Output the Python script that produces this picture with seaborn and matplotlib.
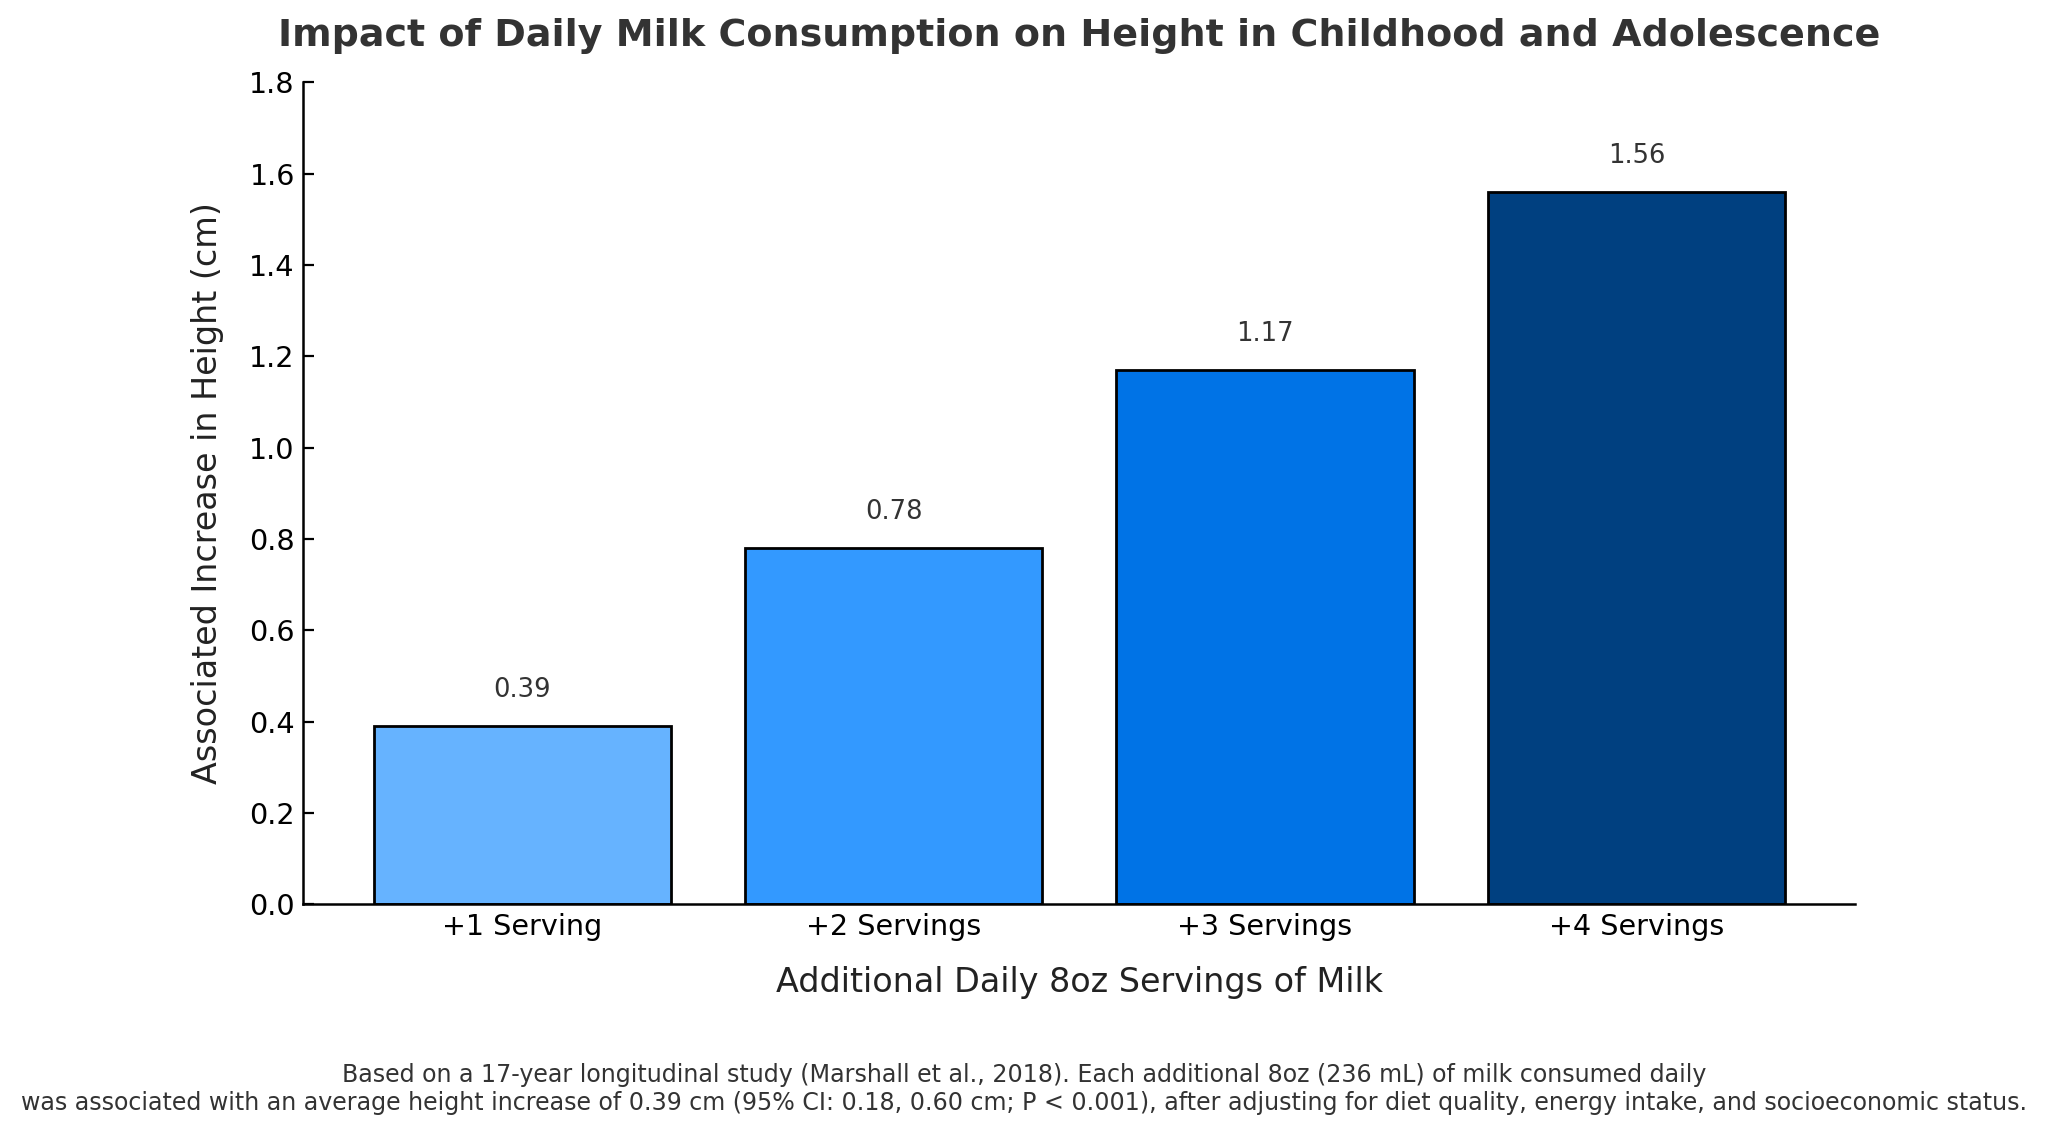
import matplotlib
matplotlib.use("Agg")
import matplotlib.pyplot as plt
import numpy as np
import pandas as pd
import seaborn as sns

# Data
servings = ["+1 Serving", "+2 Servings", "+3 Servings", "+4 Servings"]
height_gain = [0.39, 0.78, 1.17, 1.56]
bar_colors = ["#66b3ff", "#3399ff", "#0073e6", "#004080"]

title = "Impact of Daily Milk Consumption on Height in Childhood and Adolescence"
xtitle = "Additional Daily 8oz Servings of Milk"
ytitle = "Associated Increase in Height (cm)"
note = ("Based on a 17-year longitudinal study (Marshall et al., 2018). Each additional 8oz (236 mL) of milk consumed daily\n"
        "was associated with an average height increase of 0.39 cm (95% CI: 0.18, 0.60 cm; P < 0.001), after adjusting for diet quality, energy intake, and socioeconomic status.")

df = pd.DataFrame({"servings": servings, "gain": height_gain})

sns.set_theme(style="ticks")
plt.rcParams['font.family'] = ['DejaVu Sans']

fig, ax = plt.subplots(figsize=(10.24, 5.645), dpi=200)
fig.subplots_adjust(left=0.148, right=0.906, top=0.927, bottom=0.199)

sns.barplot(data=df, x="servings", y="gain", hue="servings", palette=bar_colors,
            legend=False, width=0.8, edgecolor="black", linewidth=1.0,
            saturation=1, ax=ax)
ax.set_xlim(-0.59, 3.59)

for i, v in enumerate(height_gain):
    ax.text(i, v + 0.05, f"{v:.2f}", ha="center", va="bottom", fontsize=9.3, color="#333333")

ax.set_ylim(0, 1.8)
ax.set_yticks(np.arange(0, 1.81, 0.2))
ax.set_yticklabels([f"{t:.1f}" for t in np.arange(0, 1.81, 0.2)])
ax.tick_params(direction="in", labelsize=10.3, colors="black", length=4, width=0.8, pad=3)
ax.set_xlabel(xtitle, fontsize=12, labelpad=9, color="#222222")
ax.set_ylabel(ytitle, fontsize=12, labelpad=9, color="#222222")
ax.set_title(title, fontsize=13.7, weight="bold", color="#333333", pad=13)
sns.despine(ax=ax)
for s in ["left", "bottom"]:
    ax.spines[s].set_color("black")
    ax.spines[s].set_linewidth(0.9)

fig.text(0.5, 0.012, note, ha="center", va="bottom", fontsize=8.55, color="#333333",
         linespacing=1.25)

fig.savefig("out.png", dpi=200)
